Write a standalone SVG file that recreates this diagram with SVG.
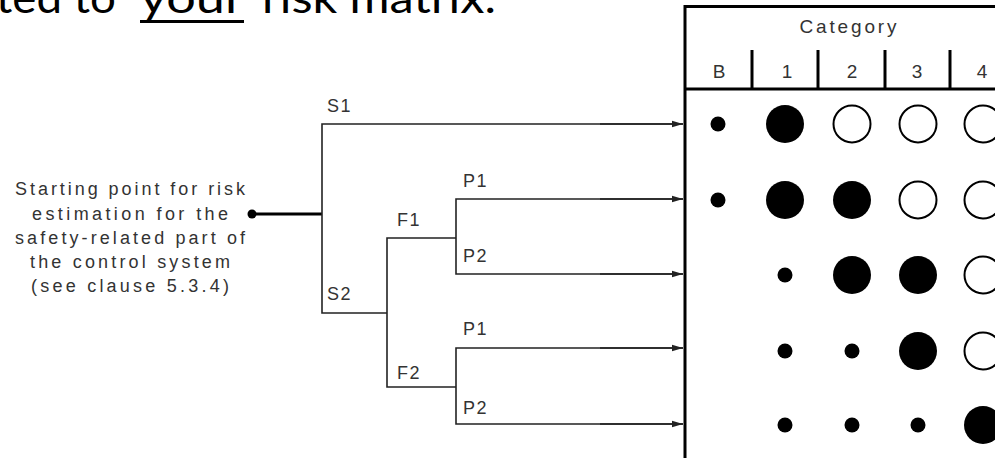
<svg xmlns="http://www.w3.org/2000/svg" width="995" height="458" viewBox="0 0 995 458">
<defs>
<marker id="arr" markerUnits="userSpaceOnUse" markerWidth="11" markerHeight="8" refX="11" refY="4" orient="auto">
<path d="M0,0.8 L11,4 L0,7.2 z" fill="#222"/>
</marker>
<style>
.t{font-family:"Liberation Sans",Arial,sans-serif;fill:#333;}
.lbl{font-size:18px;letter-spacing:1.5px;}
.start{font-size:18px;text-anchor:middle;}
.hdr{font-size:19px;text-anchor:middle;}
.title{font-family:Lato,"Open Sans",sans-serif;font-size:42px;fill:#000;}
.ln{stroke:#222;stroke-width:1.6;fill:none;}
.bold{stroke:#000;stroke-width:3;fill:none;}
.f{fill:#000;}
.o{fill:#fff;stroke:#000;stroke-width:2;}
</style>
</defs>
<rect width="995" height="458" fill="#fff"/>
<g id="title">
<text class="title" x="-4" y="13" textLength="120" lengthAdjust="spacingAndGlyphs">ted to</text>
<text class="title" x="140" y="13" textLength="104" lengthAdjust="spacingAndGlyphs">your</text>
<rect x="140" y="20" width="104" height="3" fill="#000"/>
<text class="title" x="262" y="13" textLength="234" lengthAdjust="spacingAndGlyphs">risk matrix.</text>
</g>
<g id="start">
<text class="t start" x="130" y="195" textLength="230" lengthAdjust="spacing">Starting point for risk</text>
<text class="t start" x="130" y="220" textLength="196" lengthAdjust="spacing">estimation for the</text>
<text class="t start" x="130" y="244" textLength="230" lengthAdjust="spacing">safety-related part of</text>
<text class="t start" x="130" y="268" textLength="200" lengthAdjust="spacing">the control system</text>
<text class="t start" x="130" y="292" textLength="198" lengthAdjust="spacing">(see clause 5.3.4)</text>
<circle cx="252" cy="214" r="4.5" fill="#000"/>
</g>
<g id="connectors">
<line class="bold" x1="252" y1="214" x2="322" y2="214"/>
<polyline class="ln" points="683,124 322,124 322,313 387,313"/>
<polyline class="ln" points="456,238 387,238 387,387 456,387"/>
<polyline class="ln" points="683,199 456,199 456,274 683,274"/>
<polyline class="ln" points="683,348 456,348 456,424 683,424"/>
<line class="ln" x1="600" y1="124" x2="683" y2="124" marker-end="url(#arr)"/>
<line class="ln" x1="600" y1="199" x2="683" y2="199" marker-end="url(#arr)"/>
<line class="ln" x1="600" y1="274" x2="683" y2="274" marker-end="url(#arr)"/>
<line class="ln" x1="600" y1="348" x2="683" y2="348" marker-end="url(#arr)"/>
<line class="ln" x1="600" y1="424" x2="683" y2="424" marker-end="url(#arr)"/>
</g>
<g id="branch-labels">
<text class="t lbl" x="327" y="112">S1</text>
<text class="t lbl" x="327" y="300">S2</text>
<text class="t lbl" x="397" y="226">F1</text>
<text class="t lbl" x="397" y="379">F2</text>
<text class="t lbl" x="463" y="187">P1</text>
<text class="t lbl" x="463" y="262">P2</text>
<text class="t lbl" x="463" y="335">P1</text>
<text class="t lbl" x="463" y="414">P2</text>
</g>
<g id="matrix">
<rect class="bold" x="685" y="6.5" width="400" height="500"/>
<line class="bold" x1="685" y1="89" x2="1000" y2="89"/>
<line class="bold" x1="752" y1="50" x2="752" y2="89"/>
<line class="bold" x1="818" y1="50" x2="818" y2="89"/>
<line class="bold" x1="885" y1="50" x2="885" y2="89"/>
<line class="bold" x1="950" y1="50" x2="950" y2="89"/>
<text class="t hdr" x="848" y="33" font-size="20" textLength="97" lengthAdjust="spacing">Category</text>
<text class="t hdr" x="719" y="78">B</text>
<text class="t hdr" x="787" y="78">1</text>
<text class="t hdr" x="852" y="78">2</text>
<text class="t hdr" x="917" y="78">3</text>
<text class="t hdr" x="982" y="78">4</text>
<circle class="f" cx="718" cy="124" r="7.5"/>
<circle class="f" cx="785" cy="124" r="19"/>
<circle class="o" cx="852" cy="124" r="18.5"/>
<circle class="o" cx="918" cy="124" r="18.5"/>
<circle class="o" cx="983" cy="124" r="18.5"/>
<circle class="f" cx="718" cy="200" r="7.5"/>
<circle class="f" cx="785" cy="200" r="19"/>
<circle class="f" cx="852" cy="200" r="19"/>
<circle class="o" cx="918" cy="200" r="18.5"/>
<circle class="o" cx="983" cy="200" r="18.5"/>
<circle class="f" cx="785" cy="275" r="7.5"/>
<circle class="f" cx="852" cy="275" r="19"/>
<circle class="f" cx="918" cy="275" r="19"/>
<circle class="o" cx="983" cy="275" r="18.5"/>
<circle class="f" cx="785" cy="351" r="7.5"/>
<circle class="f" cx="852" cy="351" r="7.5"/>
<circle class="f" cx="918" cy="351" r="19"/>
<circle class="o" cx="983" cy="351" r="18.5"/>
<circle class="f" cx="785" cy="425" r="7.5"/>
<circle class="f" cx="852" cy="425" r="7.5"/>
<circle class="f" cx="918" cy="425" r="7.5"/>
<circle class="f" cx="983" cy="425" r="19"/>
</g>
</svg>
